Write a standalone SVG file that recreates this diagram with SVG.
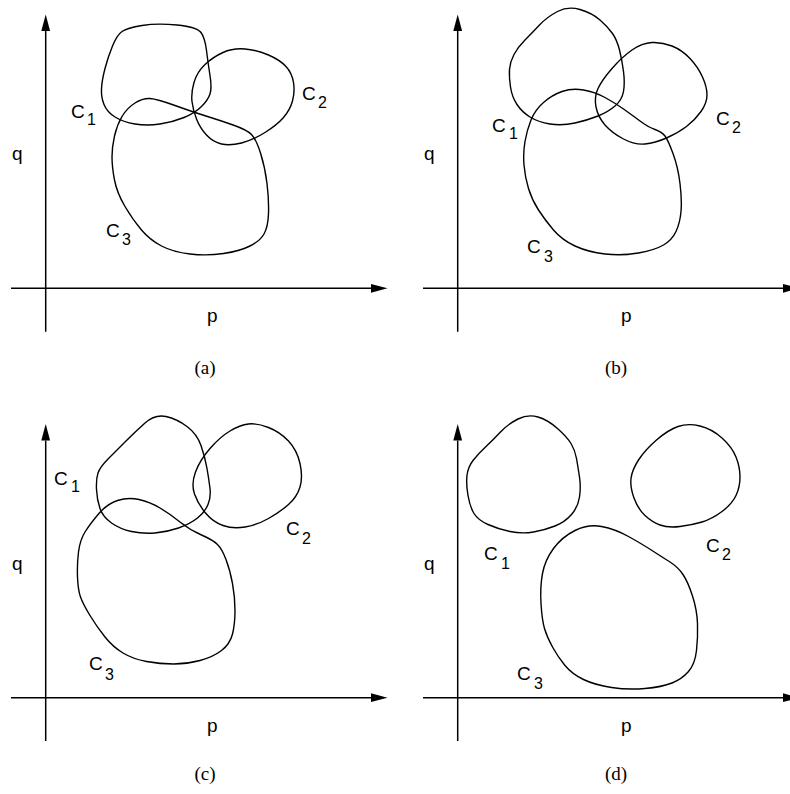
<svg xmlns="http://www.w3.org/2000/svg" width="790" height="794" viewBox="0 0 790 794">
<style>
.ax{stroke:#000;stroke-width:1.5;fill:none}
.cv{stroke:#000;stroke-width:1.4;fill:none;stroke-linejoin:round}
.lbl{font-family:"Liberation Sans",Arial,sans-serif;font-size:19px;fill:#000}
.sub{font-size:16px}
.cap{font-family:"Liberation Serif","Times New Roman",serif;font-size:19px;fill:#000;text-anchor:middle}
</style>
<defs>
<marker id="ah" markerUnits="userSpaceOnUse" markerWidth="17" markerHeight="10" refX="0" refY="5" orient="auto" overflow="visible">
<path d="M0,0.6 L16.5,5 L0,9.4 Z" fill="#000"/>
</marker>
</defs>
<rect width="790" height="794" fill="#fff"/>

<g id="panel-a">
<g id="axes-a">
<line class="ax" x1="45.7" y1="331.7" x2="45.7" y2="31" marker-end="url(#ah)"/>
<line class="ax" x1="11" y1="288.3" x2="371" y2="288.3" marker-end="url(#ah)"/>
</g>
<text class="lbl" x="12" y="160">q</text>
<text class="lbl" x="207" y="322">p</text>
<g id="a-C1"><path class="cv" d="M122,31.5 Q127,28 142,25.5 Q157,23 177,25 Q197,27 201,32.5 Q205,38 206.5,50.5 Q208,63 210,75.5 Q212,88 210,94 Q208,100 201.5,106.5 Q195,113 184,117.5 Q173,122 160,124 Q147,126 135,124 Q123,122 115,117 Q107,112 104,104.5 Q101,97 101.5,88.5 Q102,80 105,68.5 Q108,57 112.5,46 Q117,35 122,31.5 Z"/>
<text class="lbl"><tspan x="71" y="118">C</tspan><tspan class="sub" x="87" y="125">1</tspan></text></g>
<g id="a-C2"><path class="cv" d="M194,82.5 Q197,72 205,64.5 Q213,57 223,52.5 Q233,48 245,49 Q257,50 268.5,55 Q280,60 286,66.5 Q292,73 293.5,82.5 Q295,92 292.5,101 Q290,110 283.5,117.5 Q277,125 265,132.5 Q253,140 241.5,143 Q230,146 221.5,144 Q213,142 206.5,135 Q200,128 196.5,119 Q193,110 192,101.5 Q191,93 194,82.5 Z"/>
<text class="lbl"><tspan x="302" y="100">C</tspan><tspan class="sub" x="318" y="108">2</tspan></text></g>
<g id="a-C3"><path class="cv" d="M135,103 Q143,98 150,98.5 Q157,99 175,105.5 Q193,112 207.5,116.5 Q222,121 234.5,125.5 Q247,130 251.5,134.5 Q256,139 260.5,153 Q265,167 267,183.5 Q269,200 268.5,213.5 Q268,227 264,234 Q260,241 250,246 Q240,251 223.5,253.5 Q207,256 190,254 Q173,252 161.5,246 Q150,240 141.5,230 Q133,220 125,206.5 Q117,193 114.5,180 Q112,167 112,157 Q112,147 114.5,136 Q117,125 122,116.5 Q127,108 135,103 Z"/>
<text class="lbl"><tspan x="106" y="237">C</tspan><tspan class="sub" x="122" y="245">3</tspan></text></g>
<text class="cap" x="205" y="374">(a)</text>
</g>

<g id="panel-b" transform="translate(395,0)">
<g id="axes-b">
<line class="ax" x1="62.7" y1="331.7" x2="62.7" y2="31" marker-end="url(#ah)"/>
<line class="ax" x1="28" y1="288.3" x2="388" y2="288.3" marker-end="url(#ah)"/>
</g>
<text class="lbl" x="29" y="160">q</text>
<text class="lbl" x="226" y="322">p</text>
<g id="b-C1"><path class="cv" d="M162.5,11.5 Q173,6 185,9.5 Q197,13 205,20 Q213,27 217.5,33.5 Q222,40 224.5,50 Q227,60 228.5,71.5 Q230,83 228.5,91.5 Q227,100 220,106 Q213,112 203,116 Q193,120 180,123 Q167,126 155,124 Q143,122 135,117 Q127,112 122,104.5 Q117,97 115.5,87 Q114,77 114.5,69.5 Q115,62 119,54.5 Q123,47 130,40 Q137,33 144.5,25 Q152,17 162.5,11.5 Z"/>
<text class="lbl"><tspan x="97" y="132">C</tspan><tspan class="sub" x="114" y="139">1</tspan></text></g>
<g id="b-C2"><path class="cv" d="M201,107 Q199,97 203,88.5 Q207,80 217,68.5 Q227,57 237,50 Q247,43 257,42.5 Q267,42 277,46 Q287,50 295,58.5 Q303,67 307.5,77 Q312,87 312,95 Q312,103 306,111.5 Q300,120 291.5,126.5 Q283,133 271.5,138 Q260,143 250,144 Q240,145 228.5,139 Q217,133 210,125 Q203,117 201,107 Z"/>
<text class="lbl"><tspan x="321" y="125">C</tspan><tspan class="sub" x="337" y="133">2</tspan></text></g>
<g id="b-C3"><path class="cv" d="M167,91.5 Q177,88 188.5,90 Q200,92 210,97.5 Q220,103 228.5,109 Q237,115 245,121 Q253,127 260,129.5 Q267,132 270,136 Q273,140 278,153.5 Q283,167 285,183.5 Q287,200 286,211.5 Q285,223 281,231.5 Q277,240 268.5,245 Q260,250 243.5,253 Q227,256 210,254 Q193,252 180,246 Q167,240 158.5,230 Q150,220 143.5,210 Q137,200 133.5,188.5 Q130,177 129,165 Q128,153 130,141.5 Q132,130 136,120 Q140,110 148.5,102.5 Q157,95 167,91.5 Z"/>
<text class="lbl"><tspan x="132" y="253">C</tspan><tspan class="sub" x="149" y="262">3</tspan></text></g>
<text class="cap" x="221" y="374">(b)</text>
</g>

<g id="panel-c" transform="translate(0,397)">
<g id="axes-c">
<line class="ax" x1="45.7" y1="344" x2="45.7" y2="43.5" marker-end="url(#ah)"/>
<line class="ax" x1="11" y1="300.7" x2="371" y2="300.7" marker-end="url(#ah)"/>
</g>
<text class="lbl" x="12" y="173">q</text>
<text class="lbl" x="207" y="335">p</text>
<g id="c-C1"><path class="cv" d="M145,26 Q155,17 166,19.5 Q177,22 187,29.5 Q197,37 201,48.5 Q205,60 207,71.5 Q209,83 210,91.5 Q211,100 208,107.5 Q205,115 197.5,121 Q190,127 178.5,131 Q167,135 155,136 Q143,137 131.5,134.5 Q120,132 111.5,126 Q103,120 100,111.5 Q97,103 96.5,92.5 Q96,82 98,76 Q100,70 108.5,61.5 Q117,53 126,44 Q135,35 145,26 Z"/>
<text class="lbl"><tspan x="54" y="88">C</tspan><tspan class="sub" x="71" y="95">1</tspan></text></g>
<g id="c-C2"><path class="cv" d="M194.5,97 Q191,87 195.5,75 Q200,63 210,51.5 Q220,40 230,34 Q240,28 248.5,27 Q257,26 268.5,30.5 Q280,35 288.5,44 Q297,53 300,66.5 Q303,80 300,90 Q297,100 288.5,107.5 Q280,115 268.5,121.5 Q257,128 245,130 Q233,132 223,128.5 Q213,125 205.5,116 Q198,107 194.5,97 Z"/>
<text class="lbl"><tspan x="286" y="138">C</tspan><tspan class="sub" x="302" y="147">2</tspan></text></g>
<g id="c-C3"><path class="cv" d="M117.5,103.5 Q128,100 139,102.5 Q150,105 160,111 Q170,117 180,125 Q190,133 201.5,138 Q213,143 217.5,147.5 Q222,152 226,162.5 Q230,173 232.5,186.5 Q235,200 235,213.5 Q235,227 232.5,237 Q230,247 221.5,253.5 Q213,260 200,263.5 Q187,267 173.5,267 Q160,267 146.5,264.5 Q133,262 123,256 Q113,250 105,240 Q97,230 90,218.5 Q83,207 80.5,200 Q78,193 77.5,180 Q77,167 78.5,155 Q80,143 85,135 Q90,127 98.5,117 Q107,107 117.5,103.5 Z"/>
<text class="lbl"><tspan x="89" y="273">C</tspan><tspan class="sub" x="105" y="283">3</tspan></text></g>
<text class="cap" x="205" y="383">(c)</text>
</g>

<g id="panel-d" transform="translate(395,397)">
<g id="axes-d">
<line class="ax" x1="62.7" y1="344" x2="62.7" y2="43.5" marker-end="url(#ah)"/>
<line class="ax" x1="28" y1="300.7" x2="388" y2="300.7" marker-end="url(#ah)"/>
</g>
<text class="lbl" x="29" y="173">q</text>
<text class="lbl" x="226" y="335">p</text>
<g id="d-C1"><path class="cv" d="M123,22 Q133,17 143,20 Q153,23 162.5,31.5 Q172,40 176,46.5 Q180,53 181.5,61.5 Q183,70 184.5,80 Q186,90 184.5,100 Q183,110 176.5,117.5 Q170,125 160,129 Q150,133 138.5,135 Q127,137 115,134.5 Q103,132 93,127.5 Q83,123 79,116.5 Q75,110 73,98.5 Q71,87 72,78.5 Q73,70 78,63.5 Q83,57 90.5,50 Q98,43 105.5,35 Q113,27 123,22 Z"/>
<text class="lbl"><tspan x="89" y="163">C</tspan><tspan class="sub" x="106" y="172">1</tspan></text></g>
<g id="d-C2"><path class="cv" d="M283,29.5 Q293,26 305,29 Q317,32 327,41 Q337,50 341,60 Q345,70 345,80 Q345,90 341,98.5 Q337,107 327,114.5 Q317,122 307,125 Q297,128 285,129.5 Q273,131 265,128 Q257,125 250,118.5 Q243,112 239,101 Q235,90 236,81.5 Q237,73 243.5,63 Q250,53 261.5,43 Q273,33 283,29.5 Z"/>
<text class="lbl"><tspan x="311" y="155">C</tspan><tspan class="sub" x="327" y="163">2</tspan></text></g>
<g id="d-C3"><path class="cv" d="M180,133.5 Q193,127 206.5,129.5 Q220,132 233.5,139.5 Q247,147 257,153.5 Q267,160 275,165 Q283,170 288,177.5 Q293,185 297.5,199 Q302,213 302.5,226.5 Q303,240 301.5,253.5 Q300,267 293.5,274.5 Q287,282 277,286 Q267,290 250,291.5 Q233,293 216.5,290.5 Q200,288 188.5,282.5 Q177,277 170,268.5 Q163,260 157.5,250 Q152,240 149.5,231.5 Q147,223 146,206.5 Q145,190 147.5,176.5 Q150,163 158.5,151.5 Q167,140 180,133.5 Z"/>
<text class="lbl"><tspan x="122" y="283">C</tspan><tspan class="sub" x="139" y="292">3</tspan></text></g>
<text class="cap" x="221" y="383">(d)</text>
</g>
</svg>
